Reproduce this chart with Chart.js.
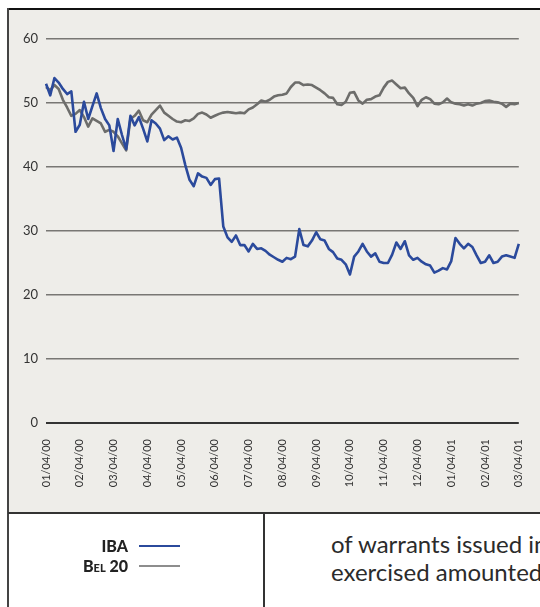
<!DOCTYPE html>
<html>
<head>
<meta charset="utf-8">
<script src="https://cdn.jsdelivr.net/npm/chart.js@4.4.0/dist/chart.umd.min.js"></script>
<style>
  html, body { margin: 0; padding: 0; background: #fff; }
  body { width: 540px; height: 607px; position: relative; overflow: hidden; font-family: Lato, "DejaVu Sans", sans-serif; }
  #panel { position: absolute; left: 8px; top: 9px; width: 532px; height: 504px; background: #eeede9; }
  #chartBox { position: absolute; left: 8px; top: 9px; width: 532px; height: 504px; }
  .line { position: absolute; background: #333; }
  .legend-row { position: absolute; left: 0; width: 182px; height: 20px; }
  .legend-row span { position: absolute; right: 54px; top: 0; font-weight: 900; font-size: 16px; color: #222; }
  .legend-row i { position: absolute; left: 139px; width: 41px; height: 2px; top: 9px; }
  #note { position: absolute; left: 331px; top: 530px; width: 400px; font-size: 24px; line-height: 28px; color: #2b2b2b; white-space: nowrap; }
</style>
</head>
<body>
<div id="panel"></div>
<div id="chartBox"><canvas id="priceChart"></canvas></div>

<!-- frame lines -->
<div class="line" style="left:8px; top:8px; width:532px; height:2px; background:#111;"></div>
<div class="line" style="left:7px; top:8px; width:2px; height:599px; background:#444;"></div>
<div class="line" style="left:8px; top:512px; width:532px; height:2px; background:#333;"></div>
<div class="line" style="left:263px; top:513px; width:2px; height:94px; background:#333;"></div>

<!-- legend -->
<div class="legend-row" style="top:536px;"><span>IBA</span><i style="background:#2b4a9c;"></i></div>
<div class="legend-row" style="top:556px;"><span style="font-variant: small-caps;">Bel 20</span><i style="background:#8d8d8d;"></i></div>

<div id="note">of warrants issued in<br>exercised amounted to</div>

<script>
document.addEventListener('DOMContentLoaded', () => {
    // Month tick labels (one every 8 samples)
    const monthLabels = ['01/04/00', '02/04/00', '03/04/00', '04/04/00', '05/04/00', '06/04/00', '07/04/00',
        '08/04/00', '09/04/00', '10/04/00', '11/04/00', '12/04/00', '01/04/01', '02/04/01', '03/04/01'];

    // IBA share price
    const ibaValues = [
        53, 51.2, 53.9, 53.2, 52.2, 51.4, 51.8, 45.5, 46.6, 50.2, 47.5, 49.5, 51.5, 49.2, 47.5, 46.5,
        42.5, 47.5, 45, 42.8, 48, 46.5, 47.8, 46, 44, 47.3, 46.8, 46, 44.2, 44.8, 44.3, 44.6,
        43, 40.3, 38, 37, 39, 38.5, 38.3, 37.2, 38.1, 38.2, 30.7, 29, 28.3, 29.3, 27.8, 27.8,
        26.8, 28, 27.2, 27.3, 26.9, 26.3, 25.9, 25.5, 25.2, 25.8, 25.6, 26, 30.3, 27.8, 27.6, 28.5,
        29.8, 28.7, 28.5, 27.2, 26.7, 25.7, 25.5, 24.8, 23.2, 26, 26.8, 28, 26.8, 26, 26.5, 25.2,
        25, 25, 26.3, 28.2, 27.2, 28.4, 26.2, 25.5, 25.8, 25.2, 24.8, 24.6, 23.5, 23.8, 24.2, 24,
        25.3, 28.9, 28, 27.3, 28, 27.5, 26.2, 25, 25.2, 26.2, 25, 25.2, 26, 26.2, 26, 25.8, 28
    ];

    // BEL 20 index, rebased
    const bel20Values = [
        52.5, 52, 52.8, 52.2, 50.5, 49.3, 48, 48.3, 48.9, 47.8, 46.3, 47.6, 47.2, 46.8, 45.5, 45.8,
        45.5, 44.8, 43.7, 42.6, 47.5, 48, 48.8, 47.3, 47, 48.2, 48.9, 49.6, 48.5, 48, 47.5, 47.1,
        47, 47.3, 47.2, 47.6, 48.3, 48.5, 48.2, 47.7, 48, 48.3, 48.5, 48.6, 48.5, 48.4, 48.5, 48.4,
        49, 49.3, 49.8, 50.4, 50.2, 50.5, 51, 51.2, 51.3, 51.5, 52.5, 53.2, 53.2, 52.8, 52.9, 52.8,
        52.4, 52, 51.5, 50.9, 50.8, 49.8, 49.7, 50.2, 51.6, 51.7, 50.4, 49.9, 50.5, 50.6, 51, 51.2,
        52.4, 53.3, 53.5, 52.9, 52.3, 52.4, 51.5, 50.8, 49.5, 50.5, 50.9, 50.6, 49.9, 49.8, 50.1, 50.7,
        50.1, 49.9, 49.8, 49.6, 49.8, 49.6, 49.9, 50, 50.3, 50.4, 50.2, 50.1, 49.9, 49.4, 49.9, 49.8, 50
    ];

    const samplesPerMonth = 8;
    const labels = ibaValues.map((v, i) => (i % samplesPerMonth === 0 ? monthLabels[i / samplesPerMonth] : ''));

    const ctx = document.getElementById('priceChart').getContext('2d');

    new Chart(ctx, {
        type: 'line',
        data: {
            labels: labels,
            datasets: [
                {
                    label: 'IBA',
                    data: ibaValues,
                    borderColor: '#2b4a9c',
                    borderWidth: 2.6,
                    pointRadius: 0,
                    tension: 0,
                    borderJoinStyle: 'round'
                },
                {
                    label: 'Bel 20',
                    data: bel20Values,
                    borderColor: '#6d6d6b',
                    borderWidth: 2.6,
                    pointRadius: 0,
                    tension: 0,
                    borderJoinStyle: 'round'
                }
            ]
        },
        options: {
            responsive: true,
            maintainAspectRatio: false,
            animation: false,
            layout: { padding: { top: 30, right: 16, left: 0, bottom: 0 } },
            plugins: {
                legend: { display: false },
                tooltip: { enabled: false }
            },
            scales: {
                x: {
                    grid: { display: false },
                    border: { display: false },
                    ticks: {
                        autoSkip: false,
                        minRotation: 90,
                        maxRotation: 90,
                        padding: 8,
                        color: '#333',
                        font: { family: 'Lato', size: 11 }
                    },
                    afterFit: (scale) => { scale.height = 90; }
                },
                y: {
                    min: 0,
                    max: 60,
                    border: { display: false },
                    grid: {
                        drawTicks: false,
                        color: (c) => (c.tick && c.tick.value === 0 ? '#333' : '#787774'),
                        lineWidth: (c) => (c.tick && c.tick.value === 0 ? 2 : 1.6)
                    },
                    ticks: {
                        stepSize: 10,
                        padding: 8,
                        color: '#333',
                        font: { family: 'Lato', size: 13 }
                    },
                    afterFit: (scale) => { scale.width = 38; }
                }
            }
        }
    });
});
</script>
</body>
</html>
